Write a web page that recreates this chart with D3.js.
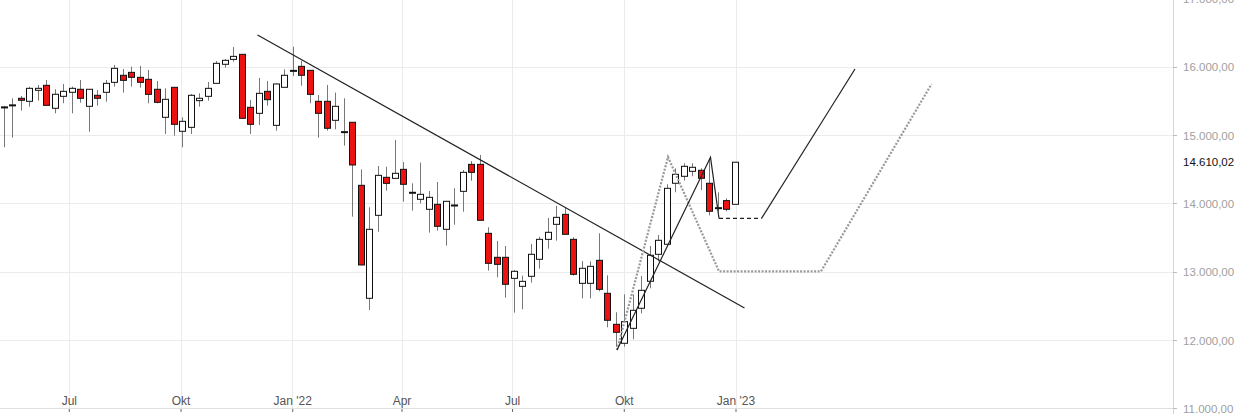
<!DOCTYPE html>
<html><head><meta charset="utf-8">
<script src="https://cdn.jsdelivr.net/npm/d3@7"></script>
<style>body{margin:0;background:#fff}svg{display:block}</style>
</head><body><svg id="chart" width="1240" height="414"></svg>
<script>
// weekly candles, first week ending 2021-05-08
var firstWeek = "2021-05-08";
var opens  = [15420,15440,15546,15502,15663,15736,15400,15575,15634,15678,15429,15590,15634,15780,15883,15926,15853,15824,15678,15268,15707,15063,15121,15512,15575,15765,16044,16116,16190,15414,15326,15648,15150,15707,15950,16014,15956,15502,15502,15224,15058,15195,14272,12618,13833,14389,14374,14506,14170,14067,13921,13994,13628,13984,14184,14579,14579,13569,13218,13218,12910,12793,12940,13189,13481,13701,13847,13481,12837,12837,13174,12691,12237,11959,12178,12472,12867,13262,13409,14302,14404,14477,14492,14302,13945,14048,13994];
var highs  = [15430,15546,15580,15717,15741,15814,15678,15756,15717,15814,15678,15668,15814,16034,15975,16010,16020,15961,15800,15692,15707,15268,15609,15619,15785,16092,16121,16297,16190,15521,15844,15800,15765,15970,16302,16092,15956,15595,15741,15629,15546,15195,14506,13950,14555,14545,14936,14613,14301,14604,14189,14321,14038,14228,14496,14628,14716,13657,13457,13384,13032,12949,13413,13520,13794,13970,13950,13511,13164,13159,13569,12954,12413,12676,12676,12945,13384,13545,14287,14521,14594,14594,14521,14667,14170,14082,14614];
var lows   = [14830,14970,15365,15424,15512,15434,15326,15473,15326,15482,15058,15438,15497,15717,15629,15717,15702,15473,15473,15024,14999,14829,15024,15424,15512,15765,15995,16082,15253,15024,15155,15438,15072,15707,15873,15731,15473,14970,15072,15092,14853,13813,13101,12447,13594,14194,14374,14033,13901,14008,13579,13608,13389,13696,13886,14340,13760,13023,12925,12627,12408,12457,12847,13052,13345,13462,13555,12949,12618,12618,12720,12193,11910,11910,12017,12398,12764,13160,13409,14170,14341,14404,14204,13833,13887,13892,13994];
var closes = [15410,15450,15517,15692,15692,15443,15605,15648,15692,15546,15678,15546,15765,15985,15809,15853,15780,15604,15487,15531,15165,15209,15590,15546,15692,16058,16102,16160,15253,15165,15619,15526,15756,15883,15955,15883,15604,15326,15107,15429,15058,14570,13106,13628,14418,14301,14448,14287,14170,14140,14096,13672,14038,13984,14462,14462,13760,13130,13115,12823,13013,12866,13262,13481,13584,13803,13555,12969,13057,13086,12749,12296,12120,12276,12442,12735,13248,13467,14228,14433,14550,14536,14375,13892,13945,13921,14610.02];

// drawn lines: [date, value]
var trendLine = [["2021-12-03",16473],["2023-01-08",12476]];
var solidPath1 = [["2022-09-25",11861],["2022-12-11",14682],["2022-12-18",13789]];
var dashedPath = [["2022-12-18",13789],["2023-01-22",13789]];
var solidPath2 = [["2023-01-22",13789],["2023-04-09",15975]];
var dottedPath = [["2022-09-25",11861],["2022-11-06",14687],["2022-12-18",13012],["2023-03-12",13012],["2023-06-11",15755]];

var yTicks = [11000,12000,13000,14000,15000,16000,17000];
var xTicks = [["2021-07-01","Jul"],["2021-10-01","Okt"],["2022-01-01","Jan '22"],["2022-04-01","Apr"],["2022-07-01","Jul"],["2022-10-01","Okt"],["2023-01-01","Jan '23"]];

var parse = d3.timeParse("%Y-%m-%d");
var start = parse(firstWeek);
var candles = opens.map(function(o, i) {
    return {date: d3.timeDay.offset(start, 7 * i), o: o, h: highs[i], l: lows[i], c: closes[i]};
});

var svg = d3.select("#chart");
var axisX = 1173;
var x = d3.scaleTime().domain([parse("2021-07-01"), parse("2023-01-01")]).range([69.3, 736]);
var y = d3.scaleLinear().domain([11000, 17000]).range([408.8, -1]);
var fmt = d3.formatLocale({decimal: ",", thousands: ".", grouping: [3], currency: ["", "€"]}).format(",.2f");

// grid
svg.append("g").selectAll("line").data(yTicks).join("line")
    .attr("x1", 0).attr("x2", axisX).attr("y1", d => y(d)).attr("y2", d => y(d))
    .attr("stroke", "#ebebeb").attr("shape-rendering", "crispEdges");
svg.append("g").selectAll("line").data(xTicks).join("line")
    .attr("x1", d => x(parse(d[0]))).attr("x2", d => x(parse(d[0])))
    .attr("y1", 0).attr("y2", 408).attr("stroke", "#ebebeb").attr("shape-rendering", "crispEdges");

// right axis
var ra = svg.append("g");
ra.append("line").attr("x1", axisX).attr("x2", axisX).attr("y1", 0).attr("y2", 414)
    .attr("stroke", "#d6d6d6").attr("shape-rendering", "crispEdges");
ra.selectAll("line.t").data(yTicks).join("line").attr("class", "t")
    .attr("x1", axisX).attr("x2", axisX + 4).attr("y1", d => y(d)).attr("y2", d => y(d))
    .attr("stroke", "#bbb").attr("shape-rendering", "crispEdges");
ra.selectAll("text").data(yTicks).join("text")
    .attr("x", 1183).attr("y", d => y(d) + 4)
    .attr("font-family", "Arial, 'Liberation Sans', sans-serif").attr("font-size", 11.5)
    .attr("fill", "#a0a0a0").text(d => fmt(d));
var last = closes[closes.length - 1];
ra.append("rect").attr("x", 1176).attr("y", y(last) - 8).attr("width", 64).attr("height", 16).attr("fill", "#fff");
ra.append("text").attr("x", 1183).attr("y", y(last) + 4)
    .attr("font-family", "Arial, 'Liberation Sans', sans-serif").attr("font-size", 11.5)
    .attr("fill", "#111").text(fmt(last));

// bottom axis
var ba = svg.append("g");
ba.append("line").attr("x1", 0).attr("x2", axisX).attr("y1", 408.5).attr("y2", 408.5).attr("stroke", "#e0e0e0");
ba.selectAll("line.t").data(xTicks).join("line").attr("class", "t")
    .attr("x1", d => x(parse(d[0]))).attr("x2", d => x(parse(d[0])))
    .attr("y1", 409).attr("y2", 412).attr("stroke", "#666");
ba.selectAll("text").data(xTicks).join("text")
    .attr("x", d => x(parse(d[0]))).attr("y", 405).attr("text-anchor", "middle")
    .attr("font-family", "'Liberation Sans Narrow', 'Arial Narrow', sans-serif").attr("font-size", 12)
    .attr("fill", "#555").text(d => d[1]);

// candles
var bw = 6;
var cg = svg.append("g").selectAll("g").data(candles).join("g");
cg.append("line")
    .attr("x1", d => Math.round(x(d.date)) + 0.5).attr("x2", d => Math.round(x(d.date)) + 0.5)
    .attr("y1", d => y(d.h)).attr("y2", d => y(d.l)).attr("stroke", "#777");
cg.append("rect")
    .attr("x", d => Math.round(x(d.date)) - bw / 2 + 0.5)
    .attr("y", d => y(Math.max(d.o, d.c)))
    .attr("width", bw)
    .attr("height", d => Math.max(1, Math.abs(y(d.o) - y(d.c))))
    .attr("fill", d => d.c < d.o ? "#ee1111" : "#fff")
    .attr("stroke", "#111").attr("stroke-width", 1);

// drawings
var line = d3.line().x(d => x(parse(d[0]))).y(d => y(d[1]));
function draw(pts, color, width, dash) {
    svg.append("path").attr("d", line(pts)).attr("fill", "none")
        .attr("stroke", color).attr("stroke-width", width).attr("stroke-dasharray", dash);
}
draw(trendLine, "#222", 1.2, null);
draw(dottedPath, "#999", 2.2, "2,1.5");
draw(solidPath1, "#222", 1.2, null);
draw(dashedPath, "#222", 1.2, "4,3");
draw(solidPath2, "#222", 1.2, null);
</script></body></html>
